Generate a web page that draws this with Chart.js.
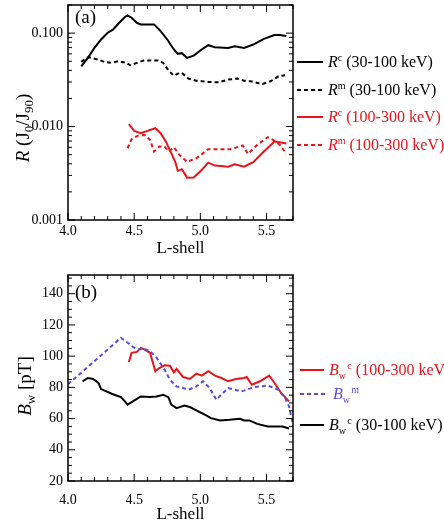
<!DOCTYPE html>
<html>
<head>
<meta charset="utf-8">
<script src="https://cdn.jsdelivr.net/npm/chart.js@4.4.0/dist/chart.umd.min.js"></script>
<style>
  body { margin: 0; width: 444px; height: 526px; overflow: hidden; background: #fff; position: relative;
         font-family: "Liberation Serif", "Times New Roman", serif; color: #000; }
  .box { position: absolute; left: 0; width: 444px; height: 263px; }
  #boxA { top: 0; }
  #boxB { top: 263px; }
  .txt { position: absolute; white-space: nowrap; line-height: 1; }
  .key { position: absolute; left: 297px; white-space: nowrap; font-size: 16px; line-height: 1; display: flex; align-items: center; }
  .key svg { margin-right: 5px; flex: none; }
  .up { position: relative; top: -6px; font-size: 10px; }
  .dn { position: relative; top: 4px; font-size: 10px; }
  .ytitle { position: absolute; white-space: nowrap; font-size: 19px; line-height: 1; transform: translate(-50%, -50%) rotate(-90deg); }
  .ytitle .dn { font-size: 13px; top: 4px; }
</style>
</head>
<body>
<div class="box" id="boxA"><canvas id="chartA"></canvas></div>
<div class="box" id="boxB"><canvas id="chartB"></canvas></div>

<div class="txt" style="left:75px;top:7px;font-size:19px">(a)</div>
<div class="txt" style="left:75px;top:282px;font-size:19px">(b)</div>
<div class="ytitle" style="left:22px;top:128px"><i>R</i> (J<span class="dn">0</span>/J<span class="dn">90</span>)</div>
<div class="ytitle" style="left:24px;top:386px"><i>B</i><span class="dn">w</span> [pT]</div>

<div class="key" style="top:54px"><svg width="26" height="4"><line x1="0" y1="2" x2="26" y2="2" stroke="#000" stroke-width="2"/></svg><span><i>R</i><span class="up">c</span> (30-100 keV)</span></div>
<div class="key" style="top:82px"><svg width="26" height="4"><line x1="0" y1="2" x2="26" y2="2" stroke="#000" stroke-width="2" stroke-dasharray="4,3"/></svg><span><i>R</i><span class="up">m</span> (30-100 keV)</span></div>
<div class="key" style="top:109px;color:#e8141a"><svg width="26" height="4"><line x1="0" y1="2" x2="26" y2="2" stroke="#e8141a" stroke-width="2"/></svg><span><i>R</i><span class="up">c</span> (100-300 keV)</span></div>
<div class="key" style="top:137px;color:#e8141a"><svg width="26" height="4"><line x1="0" y1="2" x2="26" y2="2" stroke="#e8141a" stroke-width="2" stroke-dasharray="4,3"/></svg><span><i>R</i><span class="up">m</span> (100-300 keV)</span></div>

<div class="key" style="top:362px;left:300px;color:#e8141a"><svg width="24" height="4"><line x1="0" y1="2" x2="24" y2="2" stroke="#e8141a" stroke-width="2"/></svg><span><i>B</i><span class="dn">w</span>&#8202;<span class="up">c</span> (100-300 keV)</span></div>
<div class="key" style="top:386px;left:300px;color:#5b4fd0"><svg width="28" height="4"><line x1="0" y1="2" x2="28" y2="2" stroke="#5b4fd0" stroke-width="2" stroke-dasharray="4,3"/></svg><span><i>B</i><span class="dn">w</span>&#8202;<span class="up">m</span></span></div>
<div class="key" style="top:417px;left:300px"><svg width="24" height="4"><line x1="0" y1="2" x2="24" y2="2" stroke="#000" stroke-width="2"/></svg><span><i>B</i><span class="dn">w</span>&#8202;<span class="up">c</span> (30-100 keV)</span></div>

<script>
// tick labels
const lShellTicks = [4.0, 4.5, 5.0, 5.5];
const ratioTicks = [0.001, 0.01, 0.1];
const fieldTicks = [20, 40, 60, 80, 100, 120, 140];

// (a) precipitation ratio R, 30-100 keV
const rcLowL = [4.10, 4.15, 4.20, 4.25, 4.30, 4.34, 4.38, 4.43, 4.45, 4.48, 4.52, 4.55, 4.65, 4.70, 4.75, 4.80, 4.83, 4.86, 4.90, 4.95, 5.01, 5.06, 5.11, 5.21, 5.26, 5.33, 5.40, 5.48, 5.56, 5.60, 5.65];
const rcLow  = [0.0442, 0.0543, 0.0695, 0.0855, 0.101, 0.109, 0.126, 0.149, 0.155, 0.146, 0.129, 0.124, 0.124, 0.105, 0.0855, 0.0668, 0.060, 0.061, 0.0543, 0.0575, 0.0668, 0.0743, 0.0708, 0.0695, 0.0724, 0.0695, 0.0755, 0.0869, 0.0953, 0.0953, 0.093];
const rmLowL = [4.10, 4.14, 4.16, 4.23, 4.28, 4.33, 4.38, 4.44, 4.47, 4.52, 4.57, 4.68, 4.72, 4.76, 4.80, 4.84, 4.86, 4.91, 4.97, 5.06, 5.14, 5.21, 5.28, 5.33, 5.38, 5.47, 5.53, 5.59, 5.64];
const rmLow  = [0.0492, 0.0543, 0.055, 0.052, 0.0489, 0.0482, 0.050, 0.0482, 0.0453, 0.048, 0.0508, 0.0508, 0.048, 0.0397, 0.035, 0.0375, 0.0375, 0.0326, 0.031, 0.030, 0.0298, 0.0318, 0.0326, 0.031, 0.0305, 0.0285, 0.0305, 0.0345, 0.0354];

// (a) precipitation ratio R, 100-300 keV
const rcHighL = [4.46, 4.50, 4.55, 4.60, 4.66, 4.70, 4.74, 4.78, 4.81, 4.83, 4.86, 4.90, 4.95, 5.01, 5.06, 5.11, 5.21, 5.26, 5.33, 5.40, 5.48, 5.56, 5.60, 5.65];
const rcHigh  = [0.0106, 0.0090, 0.0085, 0.0090, 0.0096, 0.0085, 0.0069, 0.0052, 0.0042, 0.00335, 0.0035, 0.00284, 0.00285, 0.00343, 0.00411, 0.00382, 0.00372, 0.00394, 0.00372, 0.00415, 0.0054, 0.0069, 0.0068, 0.0066];
const rmHighL = [4.45, 4.48, 4.53, 4.58, 4.62, 4.65, 4.69, 4.73, 4.76, 4.80, 4.84, 4.90, 4.97, 5.06, 5.16, 5.23, 5.32, 5.36, 5.43, 5.51, 5.56, 5.60, 5.65];
const rmHigh  = [0.00586, 0.00733, 0.0080, 0.0081, 0.0072, 0.0054, 0.0061, 0.0061, 0.0054, 0.0060, 0.0050, 0.0042, 0.00458, 0.00573, 0.0057, 0.00573, 0.00627, 0.0051, 0.0064, 0.0077, 0.00703, 0.0064, 0.0051];

// (b) wave amplitude Bw [pT]
const bcLowL = [4.11, 4.15, 4.19, 4.23, 4.25, 4.29, 4.33, 4.37, 4.40, 4.43, 4.45, 4.49, 4.55, 4.62, 4.67, 4.72, 4.76, 4.78, 4.82, 4.88, 4.92, 4.97, 5.02, 5.08, 5.15, 5.22, 5.30, 5.33, 5.37, 5.43, 5.51, 5.59, 5.62, 5.67];
const bcLow  = [83.9, 86.0, 85.4, 82.8, 78.9, 77.4, 75.9, 74.6, 73.8, 71.0, 68.9, 71.0, 74.2, 73.8, 74.2, 75.3, 73.6, 68.9, 66.7, 68.4, 67.4, 65.2, 63.1, 60.3, 58.8, 59.2, 59.9, 58.8, 58.8, 56.6, 54.9, 54.9, 54.9, 53.6];
const bcHighL = [4.46, 4.48, 4.52, 4.55, 4.58, 4.62, 4.66, 4.69, 4.73, 4.77, 4.80, 4.82, 4.87, 4.92, 4.97, 5.01, 5.06, 5.11, 5.16, 5.21, 5.27, 5.33, 5.35, 5.39, 5.45, 5.52, 5.56, 5.61, 5.67];
const bcHigh  = [96.3, 102.1, 102.7, 105.3, 104.2, 102.1, 90.3, 92.4, 94.1, 93.9, 89.6, 91.8, 86.6, 85.4, 88.8, 87.5, 90.3, 87.5, 86.0, 83.9, 85.4, 86.0, 86.6, 81.7, 83.9, 87.5, 82.8, 76.4, 71.0];
const bmL = [4.00, 4.40, 4.47, 4.52, 4.57, 4.62, 4.67, 4.73, 4.77, 4.82, 4.87, 4.91, 4.97, 5.02, 5.07, 5.12, 5.21, 5.31, 5.41, 5.51, 5.59, 5.64, 5.67, 5.70];
const bm  = [82.0, 111.7, 107.4, 104.2, 104.7, 103.2, 98.9, 91.4, 84.9, 80.6, 79.6, 78.5, 80.6, 83.9, 79.6, 72.1, 79.6, 77.4, 80.2, 81.1, 78.5, 73.1, 67.8, 56.0];

const RED = '#e8141a';
const BLUE = '#5b4fd0';
const FONT = '"Liberation Serif", "Times New Roman", serif';

function pts(xs, ys) {
    return xs.map((x, i) => ({ x: x, y: ys[i] }));
}

function series(xs, ys, color, dashed) {
    return {
        data: pts(xs, ys),
        borderColor: color,
        borderWidth: 2,
        borderDash: dashed ? [4, 3] : [],
        pointRadius: 0,
        tension: 0,
        fill: false
    };
}

// box around the plot + inward ticks on all four sides
const frameTicks = {
    id: 'frameTicks',
    afterDraw(chart, args, opts) {
        const { ctx, chartArea: a, scales } = chart;
        const x = scales.x, y = scales.y;
        ctx.save();
        ctx.strokeStyle = '#000';
        ctx.lineWidth = 1;
        ctx.beginPath();
        opts.xTicks.forEach(t => {
            const p = x.getPixelForValue(t.v);
            ctx.moveTo(p, a.bottom); ctx.lineTo(p, a.bottom - t.len);
            ctx.moveTo(p, a.top); ctx.lineTo(p, a.top + t.len);
        });
        opts.yTicks.forEach(t => {
            const p = y.getPixelForValue(t.v);
            if (p < a.top - 0.5 || p > a.bottom + 0.5) return;
            ctx.moveTo(a.left, p); ctx.lineTo(a.left + t.len, p);
            ctx.moveTo(a.right, p); ctx.lineTo(a.right - t.len, p);
        });
        ctx.stroke();
        ctx.lineWidth = 1.5;
        ctx.strokeRect(a.left, a.top, a.right - a.left, a.bottom - a.top);
        ctx.restore();
    }
};

// tick mark positions (axis decoration only)
const xTickMarks = [];
for (let i = 0; i <= 17; i++) xTickMarks.push({ v: 4 + i * 0.1, len: i % 5 === 0 ? 7 : 4 });
const logTickMarks = [];
[0.001, 0.01, 0.1].forEach(d => {
    for (let m = 1; m <= 9; m++) logTickMarks.push({ v: d * m, len: m === 1 ? 7 : 4 });
});
const linTickMarks = [];
for (let v = 20; v <= 150; v += 5) linTickMarks.push({ v: v, len: v % 20 === 0 ? 7 : 4 });

function noPad(s) {
    s.paddingTop = 0; s.paddingBottom = 0; s.paddingLeft = 0; s.paddingRight = 0;
}

function xAxis(height, labelPad, titlePad) {
    return {
        type: 'linear', min: 4, max: 5.7,
        afterBuildTicks: s => { s.ticks = lShellTicks.map(v => ({ value: v })); },
        afterFit: s => { s.height = height; noPad(s); },
        grid: { display: false, drawTicks: false },
        border: { display: false },
        ticks: { padding: labelPad, color: '#000', font: { family: FONT, size: 14 }, callback: v => v.toFixed(1) },
        title: { display: true, text: 'L-shell', color: '#000', font: { family: FONT, size: 17 }, padding: { top: 0, bottom: titlePad } }
    };
}

new Chart(document.getElementById('chartA'), {
    type: 'line',
    data: {
        datasets: [
            series(rcLowL, rcLow, '#000', false),
            series(rmLowL, rmLow, '#000', true),
            series(rcHighL, rcHigh, RED, false),
            series(rmHighL, rmHigh, RED, true)
        ]
    },
    options: {
        responsive: true, maintainAspectRatio: false, animation: false,
        layout: { padding: { left: 0, right: 151, top: 5, bottom: 0 } },
        plugins: { legend: { display: false }, tooltip: { enabled: false },
                   frameTicks: { xTicks: xTickMarks, yTicks: logTickMarks } },
        scales: {
            x: xAxis(43, 3, 4),
            y: {
                type: 'logarithmic', min: 0.001, max: 0.2,
                afterBuildTicks: s => { s.ticks = ratioTicks.map(v => ({ value: v })); },
                afterFit: s => { s.width = 68; noPad(s); },
                grid: { display: false, drawTicks: false },
                border: { display: false },
                ticks: { padding: 5, color: '#000', font: { family: FONT, size: 14 }, callback: v => v.toFixed(3) }
            }
        }
    },
    plugins: [frameTicks]
});

new Chart(document.getElementById('chartB'), {
    type: 'line',
    data: {
        datasets: [
            series(bcLowL, bcLow, '#000', false),
            series(bmL, bm, BLUE, true),
            series(bcHighL, bcHigh, RED, false)
        ]
    },
    options: {
        responsive: true, maintainAspectRatio: false, animation: false,
        layout: { padding: { left: 0, right: 151, top: 12, bottom: 0 } },
        plugins: { legend: { display: false }, tooltip: { enabled: false },
                   frameTicks: { xTicks: xTickMarks, yTicks: linTickMarks } },
        scales: {
            x: xAxis(45, 11, 1),
            y: {
                type: 'linear', min: 20, max: 152,
                afterBuildTicks: s => { s.ticks = fieldTicks.map(v => ({ value: v })); },
                afterFit: s => { s.width = 68; noPad(s); },
                grid: { display: false, drawTicks: false },
                border: { display: false },
                ticks: { padding: 5, color: '#000', font: { family: FONT, size: 14 } }
            }
        }
    },
    plugins: [frameTicks]
});
</script>
</body>
</html>
